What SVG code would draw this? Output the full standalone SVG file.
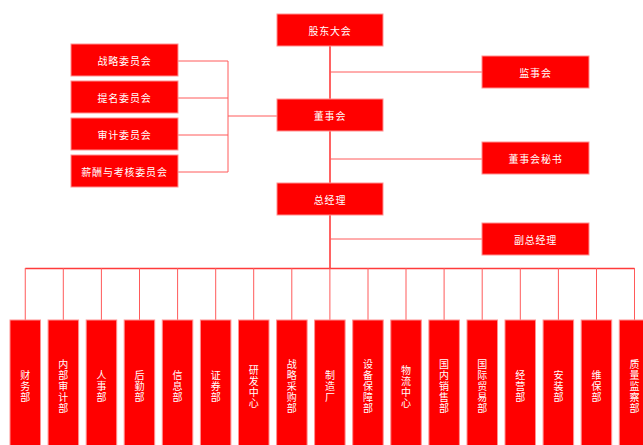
<svg xmlns="http://www.w3.org/2000/svg" width="643" height="445" viewBox="0 0 643 445">
<style>
.box{fill:#ff0000;stroke:#ff9090;stroke-width:1}
.t{fill:#ffffff;font-family:"Noto Sans CJK SC","Noto Sans",sans-serif;font-size:10px;letter-spacing:0.8px;text-anchor:middle;dominant-baseline:central}
.v{fill:#ffffff;font-family:"Noto Sans CJK SC","Noto Sans",sans-serif;font-size:10px;text-anchor:middle;dominant-baseline:central}
.ln{stroke:#ff5a5a;stroke-width:1;fill:none}
.main{stroke:#ff3b3b;stroke-width:1.6;fill:none}
</style>
<rect width="643" height="445" fill="#ffffff"/>
<g id="connectors">
<path class="main" d="M330,46V268"/>
<path class="ln" d="M330,72H482M330,159H482M330,239H482"/>
<path class="ln" d="M178,61H228M178,98H228M178,135H228M178,172H228M228,61V172M228,116H277"/>
<path class="main" d="M25.25,268.5H634.5"/>
<path class="ln" d="M25.25,268V320M63.3,268V320M101.4,268V320M139.5,268V320M177.6,268V320M215.7,268V320M253.7,268V320M291.8,268V320M329.9,268V320M368,268V320M406,268V320M444.1,268V320M482.2,268V320M520.3,268V320M558.4,268V320M596.5,268V320M634.5,268V320"/>
</g>
<g id="n-gudong"><rect class="box" x="277" y="14" width="106" height="32"/><text class="t" x="330" y="30">股东大会</text></g>
<g id="n-dongshihui"><rect class="box" x="277" y="99" width="106" height="32"/><text class="t" x="330" y="115">董事会</text></g>
<g id="n-zongjingli"><rect class="box" x="277" y="183" width="106" height="32"/><text class="t" x="330" y="199">总经理</text></g>
<g id="n-jianshihui"><rect class="box" x="482" y="56" width="107" height="32"/><text class="t" x="535.5" y="72">监事会</text></g>
<g id="n-mishu"><rect class="box" x="482" y="142" width="107" height="32"/><text class="t" x="535.5" y="158">董事会秘书</text></g>
<g id="n-fuzong"><rect class="box" x="482" y="223" width="107" height="32"/><text class="t" x="535.5" y="239">副总经理</text></g>
<g id="n-zhanlue"><rect class="box" x="71" y="44" width="107" height="32"/><text class="t" x="124.5" y="60">战略委员会</text></g>
<g id="n-timing"><rect class="box" x="71" y="81" width="107" height="32"/><text class="t" x="124.5" y="97">提名委员会</text></g>
<g id="n-shenji"><rect class="box" x="71" y="118" width="107" height="32"/><text class="t" x="124.5" y="134">审计委员会</text></g>
<g id="n-xinchou"><rect class="box" x="71" y="155" width="107" height="32"/><text class="t" x="124.5" y="171">薪酬与考核委员会</text></g>
<g id="d0"><rect class="box" x="10" y="320" width="30.5" height="130"/><text class="v" x="25.25"><tspan x="25.25" y="374">财</tspan><tspan x="25.25" y="385">务</tspan><tspan x="25.25" y="396">部</tspan></text></g>
<g id="d1"><rect class="box" x="48.1" y="320" width="30.5" height="130"/><text class="v"><tspan x="63.3" y="363">内</tspan><tspan x="63.3" y="374">部</tspan><tspan x="63.3" y="385">审</tspan><tspan x="63.3" y="396">计</tspan><tspan x="63.3" y="407">部</tspan></text></g>
<g id="d2"><rect class="box" x="86.2" y="320" width="30.5" height="130"/><text class="v"><tspan x="101.4" y="374">人</tspan><tspan x="101.4" y="385">事</tspan><tspan x="101.4" y="396">部</tspan></text></g>
<g id="d3"><rect class="box" x="124.2" y="320" width="30.5" height="130"/><text class="v"><tspan x="139.5" y="374">后</tspan><tspan x="139.5" y="385">勤</tspan><tspan x="139.5" y="396">部</tspan></text></g>
<g id="d4"><rect class="box" x="162.3" y="320" width="30.5" height="130"/><text class="v"><tspan x="177.6" y="374">信</tspan><tspan x="177.6" y="385">息</tspan><tspan x="177.6" y="396">部</tspan></text></g>
<g id="d5"><rect class="box" x="200.4" y="320" width="30.5" height="130"/><text class="v"><tspan x="215.7" y="374">证</tspan><tspan x="215.7" y="385">券</tspan><tspan x="215.7" y="396">部</tspan></text></g>
<g id="d6"><rect class="box" x="238.5" y="320" width="30.5" height="130"/><text class="v"><tspan x="253.7" y="368.5">研</tspan><tspan x="253.7" y="379.5">发</tspan><tspan x="253.7" y="390.5">中</tspan><tspan x="253.7" y="401.5">心</tspan></text></g>
<g id="d7"><rect class="box" x="276.6" y="320" width="30.5" height="130"/><text class="v"><tspan x="291.8" y="363">战</tspan><tspan x="291.8" y="374">略</tspan><tspan x="291.8" y="385">采</tspan><tspan x="291.8" y="396">购</tspan><tspan x="291.8" y="407">部</tspan></text></g>
<g id="d8"><rect class="box" x="314.6" y="320" width="30.5" height="130"/><text class="v"><tspan x="329.9" y="374">制</tspan><tspan x="329.9" y="385">造</tspan><tspan x="329.9" y="396">厂</tspan></text></g>
<g id="d9"><rect class="box" x="352.7" y="320" width="30.5" height="130"/><text class="v"><tspan x="368" y="363">设</tspan><tspan x="368" y="374">备</tspan><tspan x="368" y="385">保</tspan><tspan x="368" y="396">障</tspan><tspan x="368" y="407">部</tspan></text></g>
<g id="d10"><rect class="box" x="390.8" y="320" width="30.5" height="130"/><text class="v"><tspan x="406" y="368.5">物</tspan><tspan x="406" y="379.5">流</tspan><tspan x="406" y="390.5">中</tspan><tspan x="406" y="401.5">心</tspan></text></g>
<g id="d11"><rect class="box" x="428.9" y="320" width="30.5" height="130"/><text class="v"><tspan x="444.1" y="363">国</tspan><tspan x="444.1" y="374">内</tspan><tspan x="444.1" y="385">销</tspan><tspan x="444.1" y="396">售</tspan><tspan x="444.1" y="407">部</tspan></text></g>
<g id="d12"><rect class="box" x="467" y="320" width="30.5" height="130"/><text class="v"><tspan x="482.2" y="363">国</tspan><tspan x="482.2" y="374">际</tspan><tspan x="482.2" y="385">贸</tspan><tspan x="482.2" y="396">易</tspan><tspan x="482.2" y="407">部</tspan></text></g>
<g id="d13"><rect class="box" x="505" y="320" width="30.5" height="130"/><text class="v"><tspan x="520.3" y="374">经</tspan><tspan x="520.3" y="385">营</tspan><tspan x="520.3" y="396">部</tspan></text></g>
<g id="d14"><rect class="box" x="543.1" y="320" width="30.5" height="130"/><text class="v"><tspan x="558.4" y="374">安</tspan><tspan x="558.4" y="385">装</tspan><tspan x="558.4" y="396">部</tspan></text></g>
<g id="d15"><rect class="box" x="581.2" y="320" width="30.5" height="130"/><text class="v"><tspan x="596.5" y="374">维</tspan><tspan x="596.5" y="385">保</tspan><tspan x="596.5" y="396">部</tspan></text></g>
<g id="d16"><rect class="box" x="619.3" y="320" width="30.5" height="130"/><text class="v"><tspan x="634.5" y="363">质</tspan><tspan x="634.5" y="374">量</tspan><tspan x="634.5" y="385">监</tspan><tspan x="634.5" y="396">察</tspan><tspan x="634.5" y="407">部</tspan></text></g>
</svg>
